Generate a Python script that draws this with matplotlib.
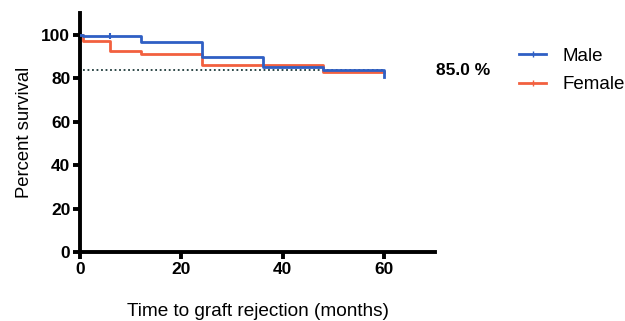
import matplotlib
matplotlib.use("Agg")
import matplotlib.pyplot as plt

plt.rcParams['font.family'] = ['Liberation Sans', 'DejaVu Sans']

# Kaplan-Meier step data (months, percent survival)
male_t = [0, 0.6, 12, 24, 36, 48, 60]
male_s = [100, 99.2, 96.6, 89.6, 85.2, 83.6, 80.5]
female_t = [0, 0.6, 6, 12, 24, 48, 60]
female_s = [100, 97.1, 92.4, 91.0, 85.8, 82.6, 82.6]
male_censor_t = [6]
male_censor_s = [99.2]
median_line_y = 83.5
median_label = "85.0 %"
xticks = [0, 20, 40, 60]
yticks = [0, 20, 40, 60, 80, 100]

blue = '#2f5fc4'
red = '#f2603f'

fig = plt.figure(figsize=(6.25, 3.21), dpi=100)
ax = fig.add_axes([0.128, 0.215, 0.568, 0.745])

ax.plot([0.6, 60], [median_line_y, median_line_y], linestyle=(0, (1, 1.5)),
        color='#1e3a3a', lw=1.3, zorder=1)
ax.step(female_t, female_s, where='post', color=red, lw=2, zorder=2)
ax.step(male_t, male_s, where='post', color=blue, lw=2, zorder=3)
ax.plot(male_censor_t, male_censor_s, marker='|', color=blue, ms=5, mew=1.5, zorder=3)

ax.set_xlim(0, 70)
ax.set_ylim(0, 110)
ax.set_xticks(xticks)
ax.set_yticks(yticks)
for s in ['top', 'right']:
    ax.spines[s].set_visible(False)
for s in ['left', 'bottom']:
    ax.spines[s].set_linewidth(2.8)
ax.tick_params(width=2.8, length=5, labelsize=12.5, pad=2)
for lab in ax.get_xticklabels() + ax.get_yticklabels():
    lab.set_fontweight('bold')

ax.set_ylabel('Percent survival', fontsize=13.3, labelpad=6)
ax.set_xlabel('Time to graft rejection (months)', fontsize=13.7, labelpad=19)

fig.text(0.698, 0.78, median_label, fontsize=12.5, fontweight='bold', va='center')

leg = ax.legend(handles=[
    plt.Line2D([], [], color=blue, lw=2, marker='|', ms=4, label='Male'),
    plt.Line2D([], [], color=red, lw=2, marker='|', ms=4, label='Female')],
    loc='upper left', bbox_to_anchor=(0.831, 0.852), bbox_transform=fig.transFigure,
    frameon=False, fontsize=13.5, handlelength=1.4, handletextpad=0.9,
    labelspacing=0.62, borderaxespad=0, borderpad=0)

fig.savefig('out.png', dpi=100)
